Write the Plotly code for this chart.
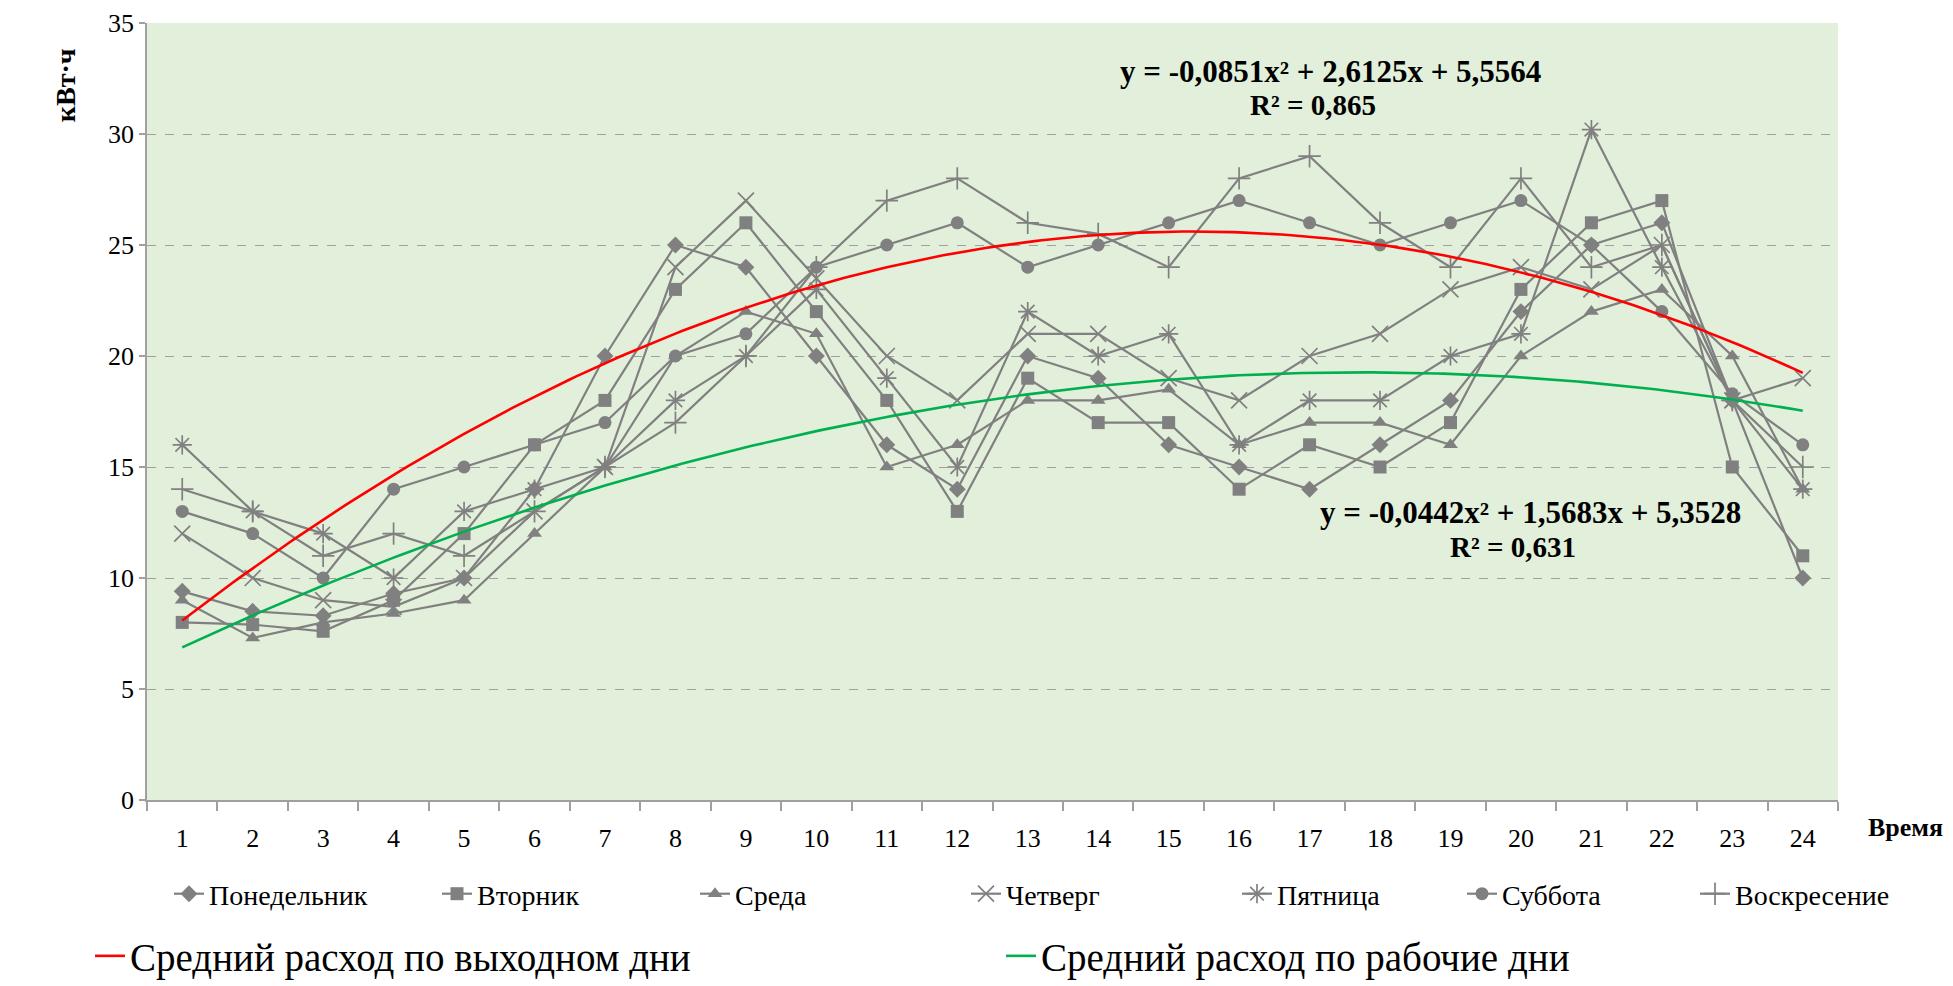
import numpy as np
import plotly.graph_objects as go

hours = list(range(1, 25))

mon = [9.4, 8.5, 8.3, 9.3, 10, 14, 20, 25, 24, 20, 16, 14, 20, 19, 16, 15, 14, 16, 18, 22, 25, 26, 18, 10]
tue = [8, 7.9, 7.6, 9.0, 12, 16, 18, 23, 26, 22, 18, 13, 19, 17, 17, 14, 16, 15, 17, 23, 26, 27, 15, 11]
wed = [9, 7.3, 8.0, 8.4, 9, 12, 15, 20, 22, 21, 15, 16, 18, 18, 18.5, 16, 17, 17, 16, 20, 22, 23, 20, 14]
thu = [12, 10, 9, 8.7, 10, 13, 15, 24, 27, 23.5, 20, 18, 21, 21, 19, 18, 20, 21, 23, 24, 23, 25, 18, 19]
fri = [16, 13, 12, 10, 13, 14, 15, 18, 20, 23, 19, 15, 22, 20, 21, 16, 18, 18, 20, 21, 30.2, 24, 18, 14]
sat = [13, 12, 10, 14, 15, 16, 17, 20, 21, 24, 25, 26, 24, 25, 26, 27, 26, 25, 26, 27, 25, 22, 18.3, 16]
sun = [14, 13, 11, 12, 11, 13, 15, 17, 20, 24, 27, 28, 26, 25.5, 24, 28, 29, 26, 24, 28, 24, 25, 18, 15]

day_names = ["Понедельник", "Вторник", "Среда", "Четверг", "Пятница", "Суббота", "Воскресение"]
day_values = [mon, tue, wed, thu, fri, sat, sun]
day_symbols = ["diamond", "square", "triangle-up", "x-thin-open", "asterisk-open", "circle", "cross-thin-open"]

weekend_coef = [-0.0851, 2.6125, 5.5564]
weekday_coef = [-0.0442, 1.5683, 5.3528]
trend_names = ["Средний расход по выходном дни", "Средний расход по рабочие дни"]
weekend_eq = "y = -0,0851x² + 2,6125x + 5,5564"
weekend_r2 = "R² = 0,865"
weekday_eq = "y = -0,0442x² + 1,5683x + 5,3528"
weekday_r2 = "R² = 0,631"

GRAY = "#808080"
SERIF = "Liberation Serif"
BODY = 8                      # default page margin around the plot div
W, H = 1953 - BODY, 986 - BODY

# legend text start positions (page px)
day_legend_px = [209, 477, 735, 1006, 1277, 1502, 1735]
trend_legend_px = [130, 1041]
TEXT_OFFSET = 40

fig = go.Figure()
for i, (name, vals, sym) in enumerate(zip(day_names, day_values, day_symbols)):
    thin = sym.endswith("open")
    fig.add_trace(go.Scatter(
        x=hours, y=vals, mode="lines+markers", name=name,
        legend="legend" if i == 0 else f"legend{i + 1}",
        line=dict(color=GRAY, width=2.2),
        marker=dict(symbol=sym, size=16 if thin else 13, color=GRAY,
                    line=dict(color=GRAY, width=1.7 if thin else 0)),
    ))

xs = np.linspace(1, 24, 231)
trend_colors = ["#FF0000", "#00B050"]
for j, (coef, nm, col) in enumerate(zip([weekend_coef, weekday_coef], trend_names, trend_colors)):
    fig.add_trace(go.Scatter(x=xs, y=np.polyval(coef, xs), mode="lines",
                             name=nm, legend=f"legend{8 + j}",
                             line=dict(color=col, width=2.6)))

legends = {}
for i, px in enumerate(day_legend_px):
    key = "legend" if i == 0 else f"legend{i + 1}"
    legends[key] = dict(xref="container", yref="container",
                        x=(px - BODY - TEXT_OFFSET) / W, xanchor="left",
                        y=1 - (894 - BODY) / H, yanchor="middle",
                        font=dict(family=SERIF, size=28), bgcolor="rgba(0,0,0,0)")
for j, px in enumerate(trend_legend_px):
    legends[f"legend{8 + j}"] = dict(xref="container", yref="container",
                                     x=(px - BODY - TEXT_OFFSET) / W, xanchor="left",
                                     y=1 - (956 - BODY) / H, yanchor="middle",
                                     font=dict(family=SERIF, size=39), bgcolor="rgba(0,0,0,0)")

fig.update_layout(
    width=W, height=H,
    margin=dict(l=147 - BODY, r=115, t=23 - BODY, b=186, autoexpand=False),
    paper_bgcolor="white", plot_bgcolor="#E2EFDA",
    font=dict(family=SERIF, size=26, color="black"),
    xaxis=dict(range=[0.5, 24.5], tickvals=hours, ticks="", showgrid=False, zeroline=False,
               showline=True, linecolor="#A0A0A0", linewidth=1.5,
               ticklabelstandoff=14,
               tickfont=dict(family=SERIF, size=26),
               minor=dict(tickmode="array", tickvals=[h - 0.5 for h in hours] + [24.5],
                          ticks="outside", ticklen=9, tickcolor="#A0A0A0", tickwidth=1.5,
                          showgrid=False)),
    yaxis=dict(range=[0, 35], dtick=5, showgrid=True, gridcolor="#A0A0A0", griddash="dash",
               gridwidth=1.3, zeroline=False, showline=True, linecolor="#A0A0A0", linewidth=1.5,
               ticks="outside", ticklen=6, tickcolor="#A0A0A0", tickwidth=1.5,
               tickfont=dict(family=SERIF, size=26)),
    showlegend=True,
    **legends,
)

for txt, ax, ay, sz in [(weekend_eq, 0.6996, 0.938, 31), (weekend_r2, 0.6896, 0.8941, 29),
                        (weekday_eq, 0.818, 0.3705, 31), (weekday_r2, 0.808, 0.3255, 29)]:
    fig.add_annotation(x=ax, y=ay, xref="paper", yref="paper", text=f"<b>{txt}</b>",
                       showarrow=False, xanchor="center", yanchor="middle",
                       font=dict(family=SERIF, size=sz, color="black"))

fig.add_annotation(x=1.040, y=-0.036, xref="paper", yref="paper", text="<b>Время</b>",
                   showarrow=False, xanchor="center", yanchor="middle",
                   font=dict(family=SERIF, size=26, color="black"))
fig.add_annotation(x=-0.0485, y=0.92, xref="paper", yref="paper", text="<b>кВт·ч</b>",
                   showarrow=False, xanchor="center", yanchor="middle", textangle=-90,
                   font=dict(family=SERIF, size=28, color="black"))

fig.write_html("out.html")
